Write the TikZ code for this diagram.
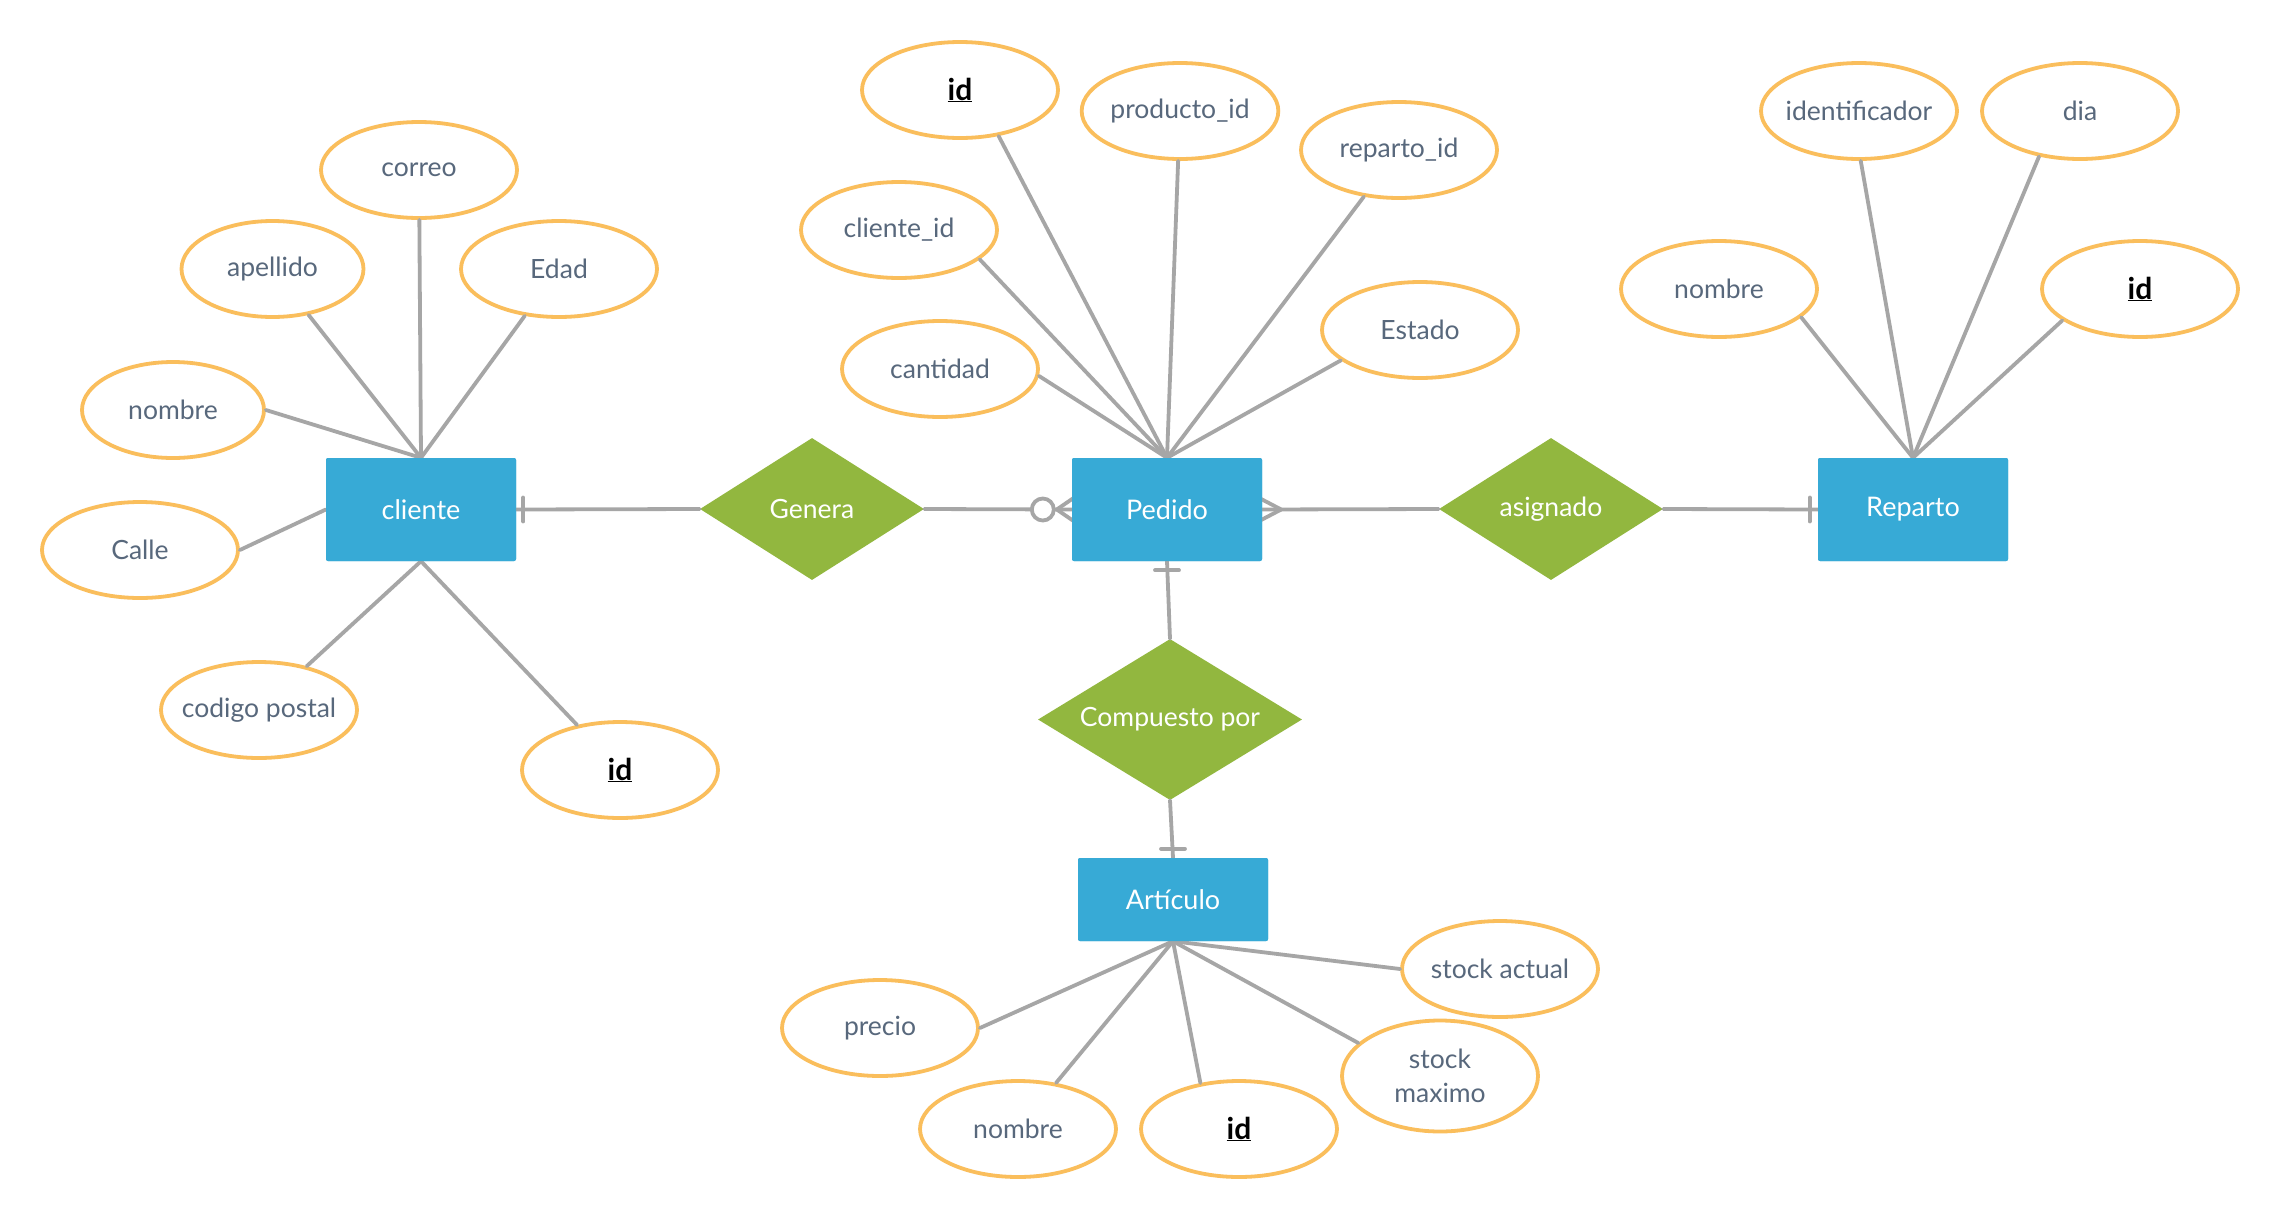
\documentclass[tikz,border=0pt]{standalone}
\usepackage{fontspec}
\setmainfont{Lato}
\usetikzlibrary{shapes.geometric}
\definecolor{entblue}{RGB}{55,170,214}
\definecolor{relgreen}{RGB}{146,183,63}
\definecolor{attrorange}{RGB}{250,190,92}
\definecolor{linegray}{RGB}{166,166,166}
\definecolor{attrtext}{RGB}{88,104,124}
\tikzset{
  entity/.style={rectangle, rounded corners=2pt, fill=entblue, text=white, minimum width=190pt, minimum height=103pt, inner sep=0pt, font=\fontsize{27}{32}\selectfont},
  rel/.style={diamond, fill=relgreen, text=white, inner sep=0pt, aspect=1.58, minimum width=224pt, minimum height=142pt, font=\fontsize{26.5}{31}\selectfont},
  attr/.style={ellipse, draw=attrorange, line width=3.8pt, fill=white, text=attrtext, minimum width=196pt, minimum height=96pt, inner sep=0pt, align=center, font=\fontsize{26.5}{34}\selectfont},
  keyattr/.style={attr, text=black, font=\fontsize{30}{35}\selectfont\bfseries},
  conn/.style={draw=linegray, line width=3.8pt, line cap=round},
}
\newcommand{\keytext}[1]{\underline{#1}}
\begin{document}
\begin{tikzpicture}[x=1pt,y=-1pt]
\useasboundingbox[fill=white] (0,0) rectangle (2281,1221);

% entities
\node[entity] (cliente) at (421,509.5) {cliente};
\node[entity] (pedido) at (1167,509.5) {Pedido};
\node[entity] (reparto) at (1913,509.5) {Reparto};
\node[entity, minimum height=83pt] (articulo) at (1173,899.5) {Artículo};

% relationships
\node[rel] (genera) at (812,509) {Genera};
\node[rel] (asignado) at (1551,509) {asignado};
\node[rel, minimum width=264pt, minimum height=161pt, aspect=1.64] (compuesto) at (1170,719.5) {Compuesto por};

% attributes of cliente
\node[attr] (ccorreo) at (419,170) {correo};
\node[attr, minimum width=182pt] (capellido) at (272.5,269) {apellido};
\node[attr] (cedad) at (559,269) {Edad};
\node[attr, minimum width=182pt] (cnombre) at (173,410) {nombre};
\node[attr] (ccalle) at (140,550) {Calle};
\node[attr, inner xsep=-30pt] (ccp) at (259,710) {codigo postal};
\node[keyattr] (cid) at (620,770) {\keytext{id}};

% attributes of Pedido
\node[keyattr] (pid) at (960,90) {\keytext{id}};
\node[attr] (pprod) at (1180,111) {producto\_id};
\node[attr] (prep) at (1399,150) {reparto\_id};
\node[attr] (pcli) at (899,230) {cliente\_id};
\node[attr] (pestado) at (1420,330) {Estado};
\node[attr] (pcant) at (940,369) {cantidad};

% attributes of Reparto
\node[attr, inner xsep=-20pt] (rident) at (1859,111) {identificador};
\node[attr] (rdia) at (2080,111) {dia};
\node[attr] (rnombre) at (1719,289) {nombre};
\node[keyattr] (rid) at (2140,289) {\keytext{id}};

% attributes of Articulo
\node[attr, inner xsep=-10pt] (asa) at (1500,969) {stock actual};
\node[attr, minimum height=111pt] (asm) at (1440,1076) {stock\\maximo};
\node[attr] (aprecio) at (880,1028) {precio};
\node[attr] (anombre) at (1018,1129) {nombre};
\node[keyattr] (aid) at (1239,1129) {\keytext{id}};

% attribute connectors
\foreach \a in {ccorreo,capellido,cedad} \draw[conn] (\a) -- (cliente.north);
\draw[conn] (cnombre.east) -- (cliente.north);
\draw[conn] (ccalle.east) -- (cliente.west);
\foreach \a in {ccp,cid} \draw[conn] (\a) -- (cliente.south);

\draw[conn] (pid.-50) -- (pedido.north);
\draw[conn] (pprod) -- (pedido.north);
\draw[conn] (prep) -- (pedido.north);
\draw[conn] (pcli.-20) -- (pedido.north);
\draw[conn] (pestado.201) -- (pedido.north);
\draw[conn] (pcant.-4) -- (pedido.north);

\draw[conn] (rident.-88) -- (reparto.north);
\draw[conn] (rdia.228) -- (reparto.north);
\draw[conn] (rnombre.-19) -- (reparto.north);
\draw[conn] (rid.202) -- (reparto.north);

\draw[conn] (asa.west) -- (articulo.south);
\draw[conn] (asm.158) -- (articulo.south);
\draw[conn] (aprecio.east) -- (articulo.south);
\draw[conn] (anombre) -- (articulo.south);
\draw[conn] (aid.130) -- (articulo.south);

% relationship connectors
\draw[conn] (cliente.east) -- (genera.west);
\draw[conn] ([xshift=7pt,yshift=12pt]cliente.east) -- ([xshift=7pt,yshift=-12pt]cliente.east);

\draw[conn] (genera.east) -- (pedido.west);
\draw[conn] ([xshift=-15pt]pedido.west) -- ([xshift=1pt,yshift=11pt]pedido.west);
\draw[conn] ([xshift=-15pt]pedido.west) -- ([xshift=1pt,yshift=-11pt]pedido.west);
\draw[conn, fill=white] ([xshift=-29pt]pedido.west) circle (11pt);

\draw[conn] (pedido.east) -- (asignado.west);
\draw[conn] ([xshift=19pt]pedido.east) -- ([xshift=-2pt,yshift=11pt]pedido.east);
\draw[conn] ([xshift=19pt]pedido.east) -- ([xshift=-2pt,yshift=-11pt]pedido.east);

\draw[conn] (asignado.east) -- (reparto.west);
\draw[conn] ([xshift=-8pt,yshift=12pt]reparto.west) -- ([xshift=-8pt,yshift=-12pt]reparto.west);

\draw[conn] (pedido.south) -- (compuesto.north);
\draw[conn] ([xshift=-12pt,yshift=-9pt]pedido.south) -- ([xshift=12pt,yshift=-9pt]pedido.south);

\draw[conn] (compuesto.south) -- (articulo.north);
\draw[conn] ([xshift=-12pt,yshift=9pt]articulo.north) -- ([xshift=12pt,yshift=9pt]articulo.north);

% redraw entities on top of connector ends
\node[entity] at (cliente) {cliente};
\node[entity] at (pedido) {Pedido};
\node[entity] at (reparto) {Reparto};
\node[entity, minimum height=83pt] at (articulo) {Artículo};
\end{tikzpicture}
\end{document}
